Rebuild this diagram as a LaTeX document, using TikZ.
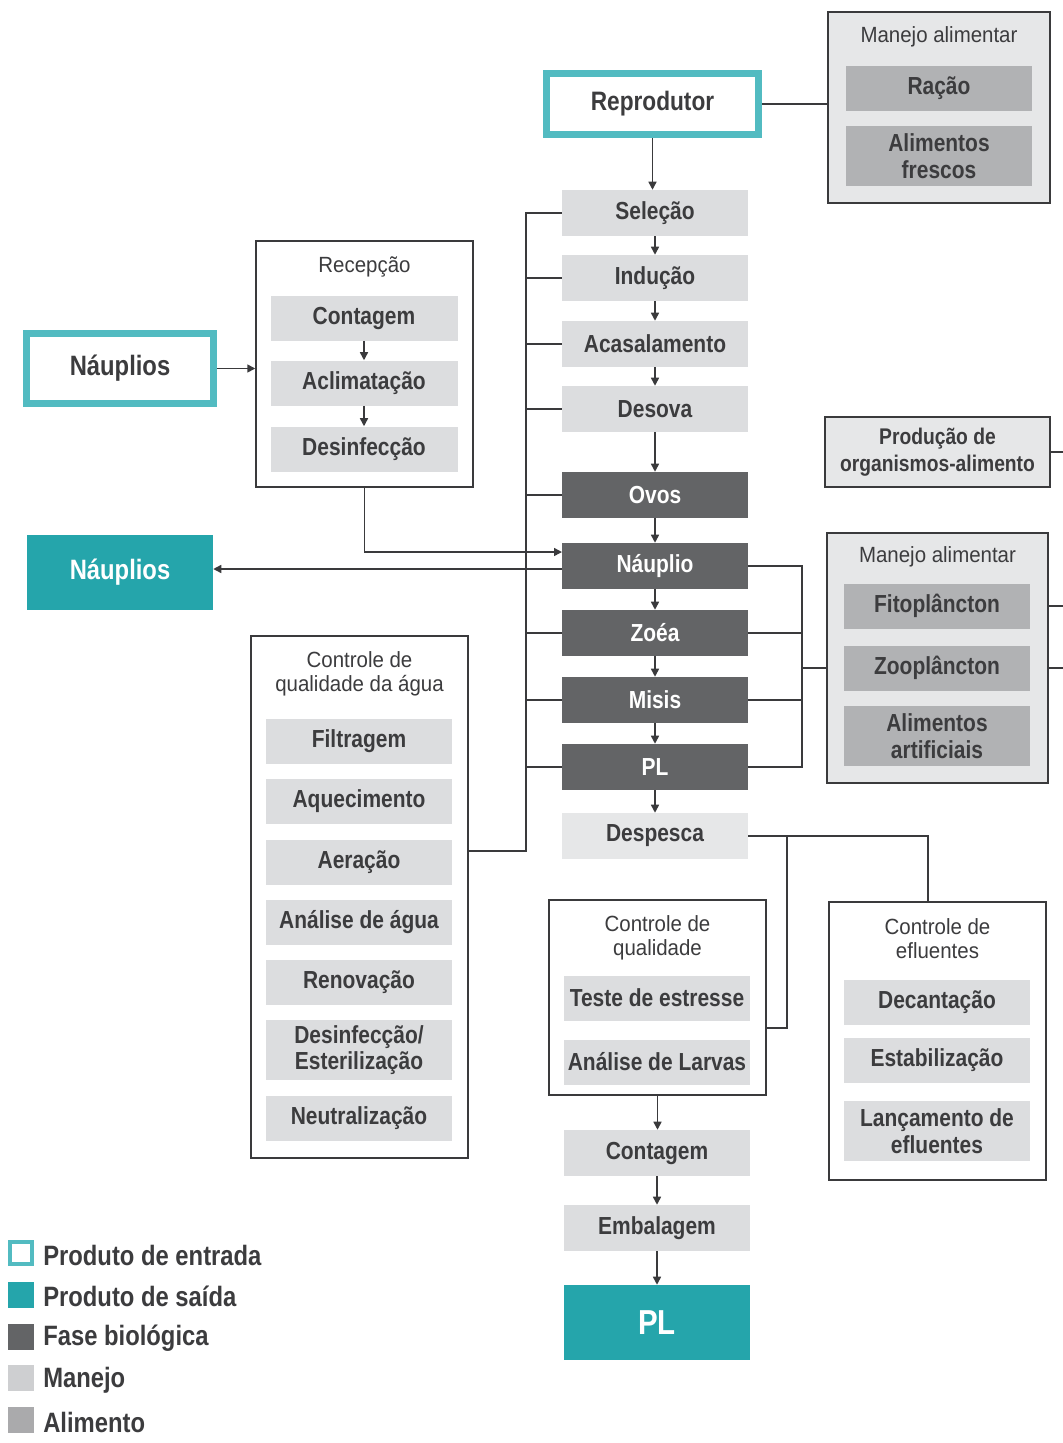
\documentclass[tikz,border=0pt]{standalone}
\usepackage{fontspec}
\setmainfont{Liberation Sans}[FakeStretch=0.85]
\newfontfamily\thinfont{Liberation Sans}[FakeStretch=0.93]
\usetikzlibrary{arrows.meta,calc}

\definecolor{txtgray}{HTML}{3C3C3E}
\definecolor{lnk}{HTML}{3A3A3C}
\definecolor{mangray}{HTML}{DCDDDF}
\definecolor{mangrayb}{HTML}{E6E7E8}
\definecolor{fasegray}{HTML}{636466}
\definecolor{alimgray}{HTML}{B1B2B4}
\definecolor{tealin}{HTML}{52BBC1}
\definecolor{tealout}{HTML}{25A5AB}
\definecolor{grpfill}{HTML}{E6E7E8}

\tikzset{
  bw/.style={minimum width=#1*0.75pt},
  bh/.style={minimum height=#1*0.75pt},
  lbl/.style={inner sep=0pt, align=center, text=txtgray,
    font=\bfseries\fontsize{18.5}{20}\selectfont},
  manejo/.style={lbl, fill=mangray, bw=186, bh=46},
  despesca/.style={manejo, fill=mangrayb},
  fase/.style={lbl, fill=fasegray, text=white, bw=186, bh=46},
  alim/.style={lbl, fill=alimgray, bw=186, bh=45},
  entrada/.style={lbl, draw=tealin, line width=5.25pt, fill=white},
  saida/.style={lbl, fill=tealout, text=white},
  grupo/.style={draw=lnk, line width=1.1pt, inner sep=0pt},
  titulo/.style={inner sep=0pt, align=center, text=txtgray,
    font=\thinfont\fontsize{16.5}{18}\selectfont},
  liga/.style={draw=lnk, line width=1.1pt},
  seta/.style={liga, -{Triangle[length=6pt,width=6pt]}},
  legbox/.style={inner sep=0pt, bw=26, bh=26},
  legent/.style={legbox, draw=tealin, line width=3pt, fill=white, bw=22, bh=22},
  legsai/.style={legbox, fill=tealout},
  legfase/.style={legbox, fill=fasegray},
  legman/.style={legbox, fill=mangray!85!gray},
  legalim/.style={legbox, fill=alimgray!85!gray},
  legtxt/.style={anchor=west, inner sep=0pt, text=txtgray,
    font=\bfseries\fontsize{21}{24}\selectfont},
}

\begin{document}
\begin{tikzpicture}[x=0.75pt,y=-0.75pt]
\useasboundingbox (0,0) rectangle (1063,1443);

% group boxes
\node[grupo, fill=grpfill, bw=222, bh=191] (manA) at (939,107.5) {};
\node[grupo, fill=grpfill, bw=221, bh=250] (manB) at (937.5,658) {};
\node[grupo, fill=white, bw=217, bh=246] (recep) at (364.5,364) {};
\node[grupo, fill=white, bw=217, bh=522] (agua) at (359.5,897) {};
\node[grupo, fill=white, bw=217, bh=195] (qual) at (657.5,997.5) {};
\node[grupo, fill=white, bw=217, bh=278] (eflu) at (937.5,1041) {};
\node[lbl, grupo, fill=grpfill, bw=225, bh=70,
  font=\bfseries\fontsize{17}{20}\selectfont] (prod) at (937.5,452) {Produção de\\organismos-alimento};

\node[titulo] (tmanA) at (939,37) {Manejo alimentar};
\node[titulo] (tmanB) at (937.5,557) {Manejo alimentar};
\node[titulo] (trecep) at (364.5,267) {Recepção};
\node[titulo] (tagua) at (359.5,674) {Controle de\\qualidade da água};
\node[titulo] (tqual) at (657.5,938) {Controle de\\qualidade};
\node[titulo] (teflu) at (937.5,939) {Controle de\\efluentes};

% main column
\node[entrada, bw=212, bh=61, font=\bfseries\fontsize{20}{22}\selectfont] (repro) at (652.5,104) {Reprodutor};
\foreach \nome/\txt/\y/\sty in {sel/Seleção/213/manejo, ind/Indução/278/manejo,
    aca/Acasalamento/344/manejo, des/Desova/409/manejo, ovos/Ovos/495/fase,
    naup/Náuplio/566/fase, zoea/Zoéa/633/fase, misis/Misis/700/fase,
    pl/PL/767/fase, desp/Despesca/836/despesca}
  \node[\sty] (\nome) at (655,\y) {\txt};
\foreach \a/\b in {repro/sel, sel/ind, ind/aca, aca/des, des/ovos,
    ovos/naup, naup/zoea, zoea/misis, misis/pl, pl/desp}
  \draw[seta] (\a.south) -- (\a.south |- \b.north);

% food
\node[alim] (racao) at (939,88) {Ração};
\node[alim, bh=60] (fresc) at (939,156) {Alimentos\\frescos};
\node[alim] (fito) at (937,606) {Fitoplâncton};
\node[alim] (zoo) at (937,668) {Zooplâncton};
\node[alim, bh=60] (artif) at (937,736) {Alimentos\\artificiais};

% reception
\node[entrada, bw=187, bh=70, font=\bfseries\fontsize{21}{24}\selectfont] (nent) at (120,368.5) {Náuplios};
\node[saida, bw=186, bh=75, font=\bfseries\fontsize{21}{24}\selectfont] (nsai) at (120,572.5) {Náuplios};
\node[manejo, bw=187, bh=45] (cont) at (364,318) {Contagem};
\node[manejo, bw=187, bh=45] (aclim) at (364,383) {Aclimatação};
\node[manejo, bw=187, bh=45] (desinf) at (364,449) {Desinfecção};
\draw[seta] (cont) -- (aclim);
\draw[seta] (aclim) -- (desinf);

% water quality
\foreach \nome/\txt/\y in {filt/Filtragem/741, aquec/Aquecimento/801, aera/Aeração/862,
    analag/Análise de água/922, renov/Renovação/982, neutr/Neutralização/1118}
  \node[manejo, bh=45] (\nome) at (359,\y) {\txt};
\node[manejo, bh=60] (desest) at (359,1050) {Desinfecção/\\Esterilização};

% harvest
\node[manejo, bh=45] (teste) at (657,998) {Teste de estresse};
\node[manejo, bh=45] (larv) at (657,1062) {Análise de Larvas};
\node[manejo] (cont2) at (657,1153) {Contagem};
\node[manejo] (emb) at (657,1228) {Embalagem};
\node[saida, bw=186, bh=75, font=\bfseries\fontsize{26}{28}\selectfont] (plout) at (657,1322.5) {PL};
\node[manejo, bh=45] (decan) at (937,1002) {Decantação};
\node[manejo, bh=45] (estab) at (937,1060) {Estabilização};
\node[manejo, bh=60] (lanc) at (937,1131) {Lançamento de\\efluentes};
\draw[seta] (qual.south) -- (qual.south |- cont2.north);
\draw[seta] (cont2) -- (emb);
\draw[seta] (emb) -- (plout);

% connectors
\coordinate (fimR) at (1063,0);
\coordinate (colR) at (802,0);
\coordinate (colL) at (526,0);
\coordinate (aguaJ) at (468,851);
\coordinate (naupIn) at (562,552);
\coordinate (naupOut) at (562,569);
\coordinate (qJ) at (787,1028);
\coordinate (eJ) at (928,0);

\draw[liga] (repro.east) -- (repro.east -| manA.west);
\draw[liga] (prod.east) -- (prod.east -| fimR);
\draw[liga] (manB.east |- fito) -- (fito -| fimR);
\draw[liga] (manB.east |- zoo) -- (zoo -| fimR);

\draw[liga] (naup.east) -| (colR |- pl) -- (pl.east);
\draw[liga] (zoea.east) -- (zoea -| colR);
\draw[liga] (misis.east) -- (misis -| colR);
\draw[liga] (colR |- zoo) -- (zoo -| manB.west);

\draw[liga] (sel.west) -| (colL |- aguaJ) -- (aguaJ);
\foreach \n in {ind,aca,des,ovos,zoea,misis,pl}
  \draw[liga] (\n.west) -- (\n.west -| colL);

\draw[seta] (nent.east) -- (nent.east -| recep.west);
\draw[seta] (recep.south) |- (naupIn);
\draw[seta] (naupOut) -- (naupOut -| nsai.east);

\draw[liga] (desp.east) -| (eJ |- eflu.north);
\draw[liga] (qJ |- desp.east) -- (qJ) -- (qJ -| qual.east);

% legend
\foreach \sty/\txt [count=\i] in {legent/Produto de entrada, legsai/Produto de saída,
    legfase/Fase biológica, legman/Manejo, legalim/Alimento}
{
  \node[\sty] (leg\i) at (21,{1253+(\i-1)*41.75}) {};
  \node[legtxt] (legt\i) at (43,{1255+(\i-1)*41.75}) {\txt};
}
\end{tikzpicture}
\end{document}
